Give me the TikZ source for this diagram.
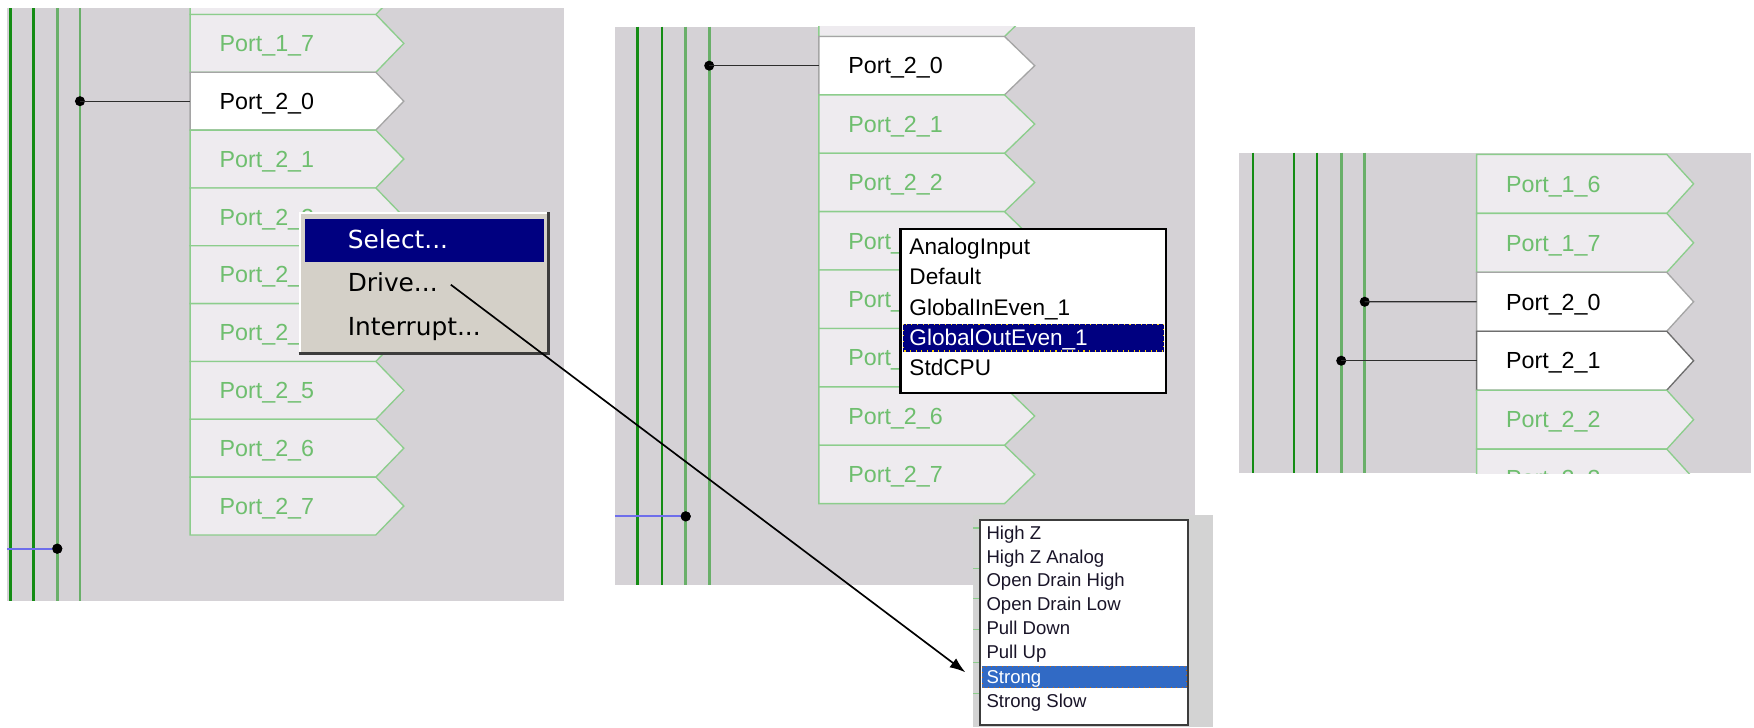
\documentclass[tikz,border=0pt]{standalone}
\usepackage{fontspec}
\setmainfont{Liberation Sans}
\newfontfamily\menufont{DejaVu Sans}
\usetikzlibrary{arrows.meta}
\definecolor{bggray}{RGB}{213,210,214}
\definecolor{bggraythree}{RGB}{211,211,211}
\definecolor{boxfill}{RGB}{238,235,239}
\definecolor{boxgreen}{RGB}{140,205,140}
\definecolor{textgreen}{RGB}{110,190,110}
\definecolor{dkgreen}{RGB}{20,140,20}
\definecolor{ltgreen}{RGB}{105,175,105}
\definecolor{selgray}{RGB}{165,165,165}
\definecolor{seldark}{RGB}{110,110,110}
\definecolor{navyhl}{RGB}{0,0,128}
\definecolor{menugray}{RGB}{212,208,200}
\definecolor{shadowgray}{RGB}{60,60,60}
\definecolor{xpblue}{RGB}{49,106,197}
\definecolor{linkgray}{RGB}{45,45,45}
\definecolor{bluewire}{RGB}{110,110,235}
\definecolor{listborder}{RGB}{60,60,60}
\definecolor{listtext}{RGB}{25,20,40}
\tikzset{
  panelbg/.style={fill=bggray, draw=none},
  portshape/.style={fill=boxfill, draw=boxgreen, line width=0.6pt},
  portsel/.style={fill=white, draw=selgray, line width=0.6pt},
  portseldark/.style={fill=white, draw=seldark, line width=0.6pt},
  porttext/.style={font=\fontsize{10.4}{12}\selectfont, inner sep=0pt, text height=7.4pt, text depth=0pt, anchor=west},
  busdark/.style={draw=dkgreen, line width=1.1pt},
  buslight/.style={draw=ltgreen, line width=1.2pt},
  junction/.style={circle, fill=black, inner sep=0pt, minimum size=4.5pt},
  link/.style={draw=linkgray, line width=0.6pt},
  bluelink/.style={draw=bluewire, line width=0.8pt},
  menuitem/.style={font=\menufont\fontsize{11.1}{13}\selectfont, inner sep=0pt, text height=8.1pt, text depth=0pt, anchor=west},
  listitem/.style={font=\fontsize{10.1}{12}\selectfont, inner sep=0pt, text height=7.2pt, text depth=0pt, anchor=west},
  smallitem/.style={font=\fontsize{8.3}{10}\selectfont, inner sep=0pt, text height=5.9pt, text depth=0pt, anchor=west, text=listtext},
  pointer/.style={-{Latex[length=7pt,width=5pt]}, draw=black, line width=0.75pt},
}
% #1 name, #2 left x, #3 top y, #4 height, #5 rect width, #6 tip, #7 style, #8 text colour, #9 label
\newcommand{\portbox}[9]{%
  \draw[#7] (#2,#3) -- ++(#5,0) -- ++(#6,#4/2) -- ++(-#6,#4/2) -- ++(-#5,0) -- cycle;
  \coordinate (#1-w) at (#2,#3+#4/2);
  \node[porttext, text=#8] (#1) at (#2+26,#3+#4/2) {#9};
}
\begin{document}
\begin{tikzpicture}[x=0.5pt, y=-0.5pt]
\useasboundingbox (0,0) rectangle (1568,650);

% ---------------- panel 1 ----------------
\fill[panelbg] (6.5,7.2) rectangle (504,537);
\begin{scope}
  \clip (6.5,7.2) rectangle (504,537);
  \draw[busdark] (9.5,7.2) -- (9.5,537);
  \draw[busdark] (29.8,7.2) -- (29.8,537);
  \draw[buslight] (51.2,7.2) -- (51.2,537);
  \draw[buslight] (71.5,7.2) -- (71.5,537);
  \portbox{pa-16}{170}{-38.8}{51.7}{166}{25}{portshape}{textgreen}{}
  \portbox{pa-17}{170}{12.9}{51.7}{166}{25}{portshape}{textgreen}{Port\_1\_7}
  \portbox{pa-20}{170}{64.6}{51.7}{166}{25}{portsel}{black}{Port\_2\_0}
  \portbox{pa-21}{170}{116.3}{51.7}{166}{25}{portshape}{textgreen}{Port\_2\_1}
  \portbox{pa-22}{170}{168.0}{51.7}{166}{25}{portshape}{textgreen}{Port\_2\_2}
  \portbox{pa-23}{170}{219.7}{51.7}{166}{25}{portshape}{textgreen}{Port\_2\_3}
  \portbox{pa-24}{170}{271.4}{51.7}{166}{25}{portshape}{textgreen}{Port\_2\_4}
  \portbox{pa-25}{170}{323.1}{51.7}{166}{25}{portshape}{textgreen}{Port\_2\_5}
  \portbox{pa-26}{170}{374.8}{51.7}{166}{25}{portshape}{textgreen}{Port\_2\_6}
  \portbox{pa-27}{170}{426.5}{51.7}{166}{25}{portshape}{textgreen}{Port\_2\_7}
\end{scope}
\node[junction] (ja) at (71.5,90.45) {};
\draw[link] (ja.center) -- (pa-20-w);
\coordinate (ba) at (6.5,490.5);
\node[junction] (jab) at (51.2,490.5) {};
\draw[bluelink] (ba) -- (jab.center);
\fill[black] (jab) circle (4.5);

% context menu
\fill[menugray] (267,189.6) rectangle (491.6,317);
\draw[white, line width=0.7pt] (268,315.5) -- (268,190.6) -- (490,190.6);
\draw[shadowgray, line width=1.3pt] (267,316) -- (490.6,316) -- (490.6,189.6);
\fill[navyhl] (273,195.5) rectangle (486.7,233.8);
\node[menuitem, text=white] (msel) at (310.5,214) {Select...};
\node[menuitem, text=black] (mdrv) at (310.5,252.5) {Drive...};
\node[menuitem, text=black] (mint) at (310.5,291.5) {Interrupt...};

% ---------------- panel 2 ----------------
\fill[panelbg] (550,23.7) rectangle (1068,523);
\begin{scope}
  \clip (550,23.7) rectangle (1068,523);
  \draw[busdark] (570,23.7) -- (570,523);
  \draw[busdark] (592,23.7) -- (592,523);
  \draw[buslight] (613,23.7) -- (613,523);
  \draw[buslight] (634,23.7) -- (634,523);
  \portbox{pb-17}{732}{-19.6}{52.2}{166}{27}{portshape}{textgreen}{}
  \portbox{pb-20}{732}{32.6}{52.2}{166}{27}{portsel}{black}{Port\_2\_0}
  \portbox{pb-21}{732}{84.8}{52.2}{166}{27}{portshape}{textgreen}{Port\_2\_1}
  \portbox{pb-22}{732}{137.0}{52.2}{166}{27}{portshape}{textgreen}{Port\_2\_2}
  \portbox{pb-23}{732}{189.2}{52.2}{166}{27}{portshape}{textgreen}{Port\_}
  \portbox{pb-24}{732}{241.4}{52.2}{166}{27}{portshape}{textgreen}{Port\_}
  \portbox{pb-25}{732}{293.6}{52.2}{166}{27}{portshape}{textgreen}{Port\_}
  \portbox{pb-26}{732}{345.8}{52.2}{166}{27}{portshape}{textgreen}{Port\_2\_6}
  \portbox{pb-27}{732}{398.0}{52.2}{166}{27}{portshape}{textgreen}{Port\_2\_7}
\end{scope}
\node[junction] (jb) at (634,58.7) {};
\draw[link] (jb.center) -- (pb-20-w);
\coordinate (bb) at (550,461.6);
\node[junction] (jbb) at (613,461.6) {};
\draw[bluelink] (bb) -- (jbb.center);
\fill[black] (jbb) circle (4.5);

% selection list
\filldraw[fill=white, draw=black, line width=1pt] (805,204.8) rectangle (1042.5,351);
\fill[navyhl] (807,289.3) rectangle (1040.6,314.3);
\draw[yellow!70!orange, dotted, line width=0.5pt] (807.5,289.8) rectangle (1040.1,313.8);
\node[listitem, text=black] (la) at (812.6,220) {AnalogInput};
\node[listitem, text=black] (lb) at (812.6,247) {Default};
\node[listitem, text=black] (lc) at (812.6,274.7) {GlobalInEven\_1};
\node[listitem, text=white] (ld) at (812.6,301.7) {GlobalOutEven\_1};
\node[listitem, text=black] (le) at (812.6,328.4) {StdCPU};

% ---------------- panel 3 (drive list) ----------------
\fill[bggraythree] (870,460) rectangle (1084,650);
\foreach \ty in {472,508,535,563,592,620}
  \draw[boxgreen, line width=0.6pt] (870,\ty) -- (876,\ty);
\filldraw[fill=white, draw=listborder, line width=1pt] (876,465) rectangle (1062,648);
\fill[xpblue] (877.6,595.6) rectangle (1061,615);
\draw[orange!80!black, dotted, line width=0.4pt] (878,596) rectangle (1060.5,614.6);
\node[smallitem] (da) at (881.5,476.7) {High Z};
\node[smallitem] (db) at (881.5,497.6) {High Z Analog};
\node[smallitem] (dc) at (881.5,518.5) {Open Drain High};
\node[smallitem] (dd) at (881.5,540) {Open Drain Low};
\node[smallitem] (de) at (881.5,561.4) {Pull Down};
\node[smallitem] (df) at (881.5,582.6) {Pull Up};
\node[smallitem, text=white] (dg) at (881.5,605) {Strong};
\node[smallitem] (dh) at (881.5,626.7) {Strong Slow};

% ---------------- panel 4 ----------------
\fill[panelbg] (1107.6,136.5) rectangle (1565,423);
\begin{scope}
  \clip (1107.6,136.5) rectangle (1565,423);
  \draw[busdark] (1120,136.5) -- (1120,423);
  \draw[busdark] (1157,136.5) -- (1157,423);
  \draw[busdark] (1177.5,136.5) -- (1177.5,423);
  \draw[buslight] (1199,136.5) -- (1199,423);
  \draw[buslight] (1220,136.5) -- (1220,423);
  \portbox{pd-16}{1320}{138}{52.7}{170}{24}{portshape}{textgreen}{Port\_1\_6}
  \portbox{pd-17}{1320}{190.7}{52.7}{170}{24}{portshape}{textgreen}{Port\_1\_7}
  \portbox{pd-20}{1320}{243.4}{52.7}{170}{24}{portsel}{black}{Port\_2\_0}
  \portbox{pd-21}{1320}{296.1}{52.7}{170}{24}{portseldark}{black}{Port\_2\_1}
  \portbox{pd-22}{1320}{348.8}{52.7}{170}{24}{portshape}{textgreen}{Port\_2\_2}
  \portbox{pd-23}{1320}{401.5}{52.7}{170}{24}{portshape}{textgreen}{Port\_2\_3}
\end{scope}
\node[junction] (jd) at (1220,269.75) {};
\draw[link] (jd.center) -- (pd-20-w);
\node[junction] (jd2) at (1199,322.45) {};
\draw[link] (jd2.center) -- (pd-21-w);

% ---------------- pointer ----------------
\coordinate (arrS) at (403,254.5);
\coordinate (arrE) at (863,601);
\draw[pointer] (arrS) -- (arrE);
\end{tikzpicture}
\end{document}
